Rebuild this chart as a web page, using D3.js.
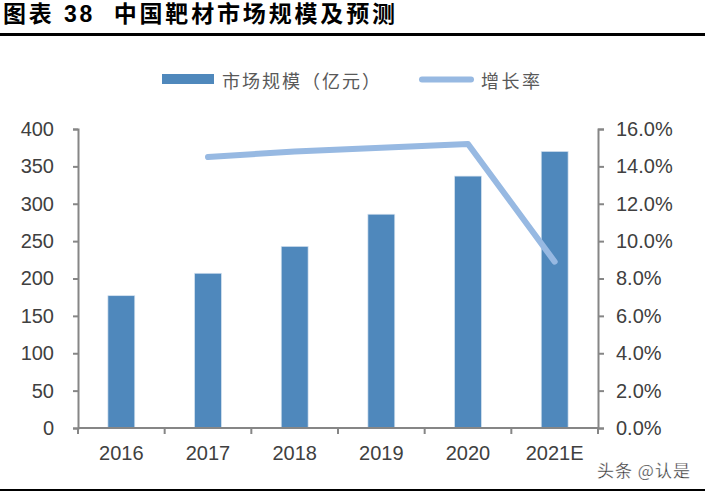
<!DOCTYPE html>
<html>
<head>
<meta charset="utf-8">
<script src="https://cdn.jsdelivr.net/npm/d3@7"></script>
<style>
  html, body { margin: 0; padding: 0; background: #fff; }
  svg { display: block; }
</style>
</head>
<body>
<svg id="chart" width="705" height="492"></svg>
<script>
// ---- data ----
const categories = ["2016", "2017", "2018", "2019", "2020", "2021E"];
const marketSize = [177, 207, 243, 286, 337, 370];          // 亿元
const growthCats = ["2017", "2018", "2019", "2020", "2021E"];
const growthRate = [0.145, 0.148, 0.150, 0.152, 0.089];
const leftTicks = [0, 50, 100, 150, 200, 250, 300, 350, 400];
const rightTicks = [0, 0.02, 0.04, 0.06, 0.08, 0.10, 0.12, 0.14, 0.16];
const titleText = "图表 38  中国靶材市场规模及预测";
const legendBar = "市场规模（亿元）";
const legendLine = "增长率";
const watermark = "头条 @认是";

// ---- styles ----
const barColor = "#4F88BC";
const lineColor = "#97B9E2";
const axisColor = "#868686";
const textColor = "#404040";
const latin = "'Liberation Sans', Arial, 'Noto Sans CJK SC', sans-serif";
const cjk = "'Noto Sans CJK SC', sans-serif";

const svg = d3.select("#chart");
svg.append("rect").attr("width", 705).attr("height", 492).attr("fill", "#fff");

const plot = { left: 78, right: 598, top: 129, bottom: 428 };

const x = d3.scaleBand().domain(categories).range([plot.left, plot.right]).padding(0);
const y = d3.scaleLinear().domain([0, 400]).range([plot.bottom, plot.top]);
const yR = d3.scaleLinear().domain([0, 0.16]).range([plot.bottom, plot.top]);
const bw = x.bandwidth() * 0.31;

// ---- title ----
svg.append("text")
  .attr("x", 3).attr("y", 22)
  .attr("font-family", latin).attr("font-weight", "bold").attr("font-size", 23)
  .attr("fill", "#000")
  .attr("textLength", 392).attr("lengthAdjust", "spacing")
  .style("white-space", "pre")
  .text(titleText);
svg.append("line").attr("x1", 0).attr("x2", 705).attr("y1", 34.5).attr("y2", 34.5)
  .attr("stroke", "#000").attr("stroke-width", 3);
svg.append("line").attr("x1", 0).attr("x2", 705).attr("y1", 490).attr("y2", 490)
  .attr("stroke", "#000").attr("stroke-width", 2);

// ---- legend ----
svg.append("rect").attr("x", 162).attr("y", 74).attr("width", 52).attr("height", 10).attr("fill", barColor);
svg.append("text").attr("x", 222).attr("y", 80).attr("dominant-baseline", "central")
  .attr("font-family", cjk).attr("font-size", 18).attr("fill", "#595959")
  .attr("textLength", 158).attr("lengthAdjust", "spacing")
  .text(legendBar);
svg.append("line").attr("x1", 422).attr("x2", 471).attr("y1", 79.5).attr("y2", 79.5)
  .attr("stroke", lineColor).attr("stroke-width", 6).attr("stroke-linecap", "round");
svg.append("text").attr("x", 481).attr("y", 80).attr("dominant-baseline", "central")
  .attr("font-family", cjk).attr("font-size", 18).attr("fill", "#595959")
  .attr("textLength", 59).attr("lengthAdjust", "spacing")
  .text(legendLine);

// ---- bars ----
svg.append("g").selectAll("rect").data(categories).join("rect")
  .attr("x", (d) => x(d) + x.bandwidth() / 2 - bw / 2)
  .attr("y", (d, i) => y(marketSize[i]))
  .attr("width", bw)
  .attr("height", (d, i) => y(0) - y(marketSize[i]))
  .attr("fill", barColor)
  .attr("stroke", "#d6e3f0").attr("stroke-width", 0.7);

// ---- left axis ----
const gl = svg.append("g").attr("transform", `translate(${plot.left},0)`)
  .call(d3.axisLeft(y).tickValues(leftTicks).tickSize(5).tickPadding(19).tickSizeOuter(5));
// ---- right axis ----
const gr = svg.append("g").attr("transform", `translate(${plot.right},0)`)
  .call(d3.axisRight(yR).tickValues(rightTicks).tickFormat(d3.format(".1%")).tickSize(6).tickPadding(12).tickSizeOuter(6));
[gl, gr].forEach(g => {
  g.select(".domain").attr("stroke", axisColor).attr("stroke-width", 2);
  g.selectAll(".tick line").attr("stroke", axisColor).attr("stroke-width", 2);
  g.selectAll("text").attr("font-family", latin).attr("font-size", 20).attr("fill", textColor);
});

// ---- x axis ----
const gx = svg.append("g");
gx.append("line").attr("x1", plot.left).attr("x2", plot.right)
  .attr("y1", y(0)).attr("y2", y(0)).attr("stroke", axisColor).attr("stroke-width", 2);
const edges = categories.map(c => x(c)).concat([x.range()[1]]);
gx.selectAll("line.tk").data(edges).join("line").attr("class", "tk")
  .attr("x1", d => d).attr("x2", d => d)
  .attr("y1", y(0)).attr("y2", y(0) + 6)
  .attr("stroke", axisColor).attr("stroke-width", 2);
gx.selectAll("text").data(categories).join("text")
  .attr("x", d => x(d) + x.bandwidth() / 2)
  .attr("y", y(0) + 32)
  .attr("text-anchor", "middle")
  .attr("font-family", latin).attr("font-size", 20).attr("fill", textColor)
  .text(d => d);

// ---- growth line ----
const line = d3.line()
  .x(d => x(d.c) + x.bandwidth() / 2)
  .y(d => yR(d.v));
svg.append("path")
  .datum(growthCats.map((c, i) => ({ c, v: growthRate[i] })))
  .attr("d", line)
  .attr("fill", "none")
  .attr("stroke", lineColor).attr("stroke-width", 6)
  .attr("stroke-linecap", "round").attr("stroke-linejoin", "round");

// ---- watermark ----
svg.append("text").attr("x", 597).attr("y", 469).attr("dominant-baseline", "central")
  .attr("font-family", cjk).attr("font-size", 17).attr("fill", "#333")
  .attr("stroke", "#fff").attr("stroke-width", 0.3)
  .attr("textLength", 93).attr("lengthAdjust", "spacing")
  .text(watermark);
</script>
</body>
</html>
